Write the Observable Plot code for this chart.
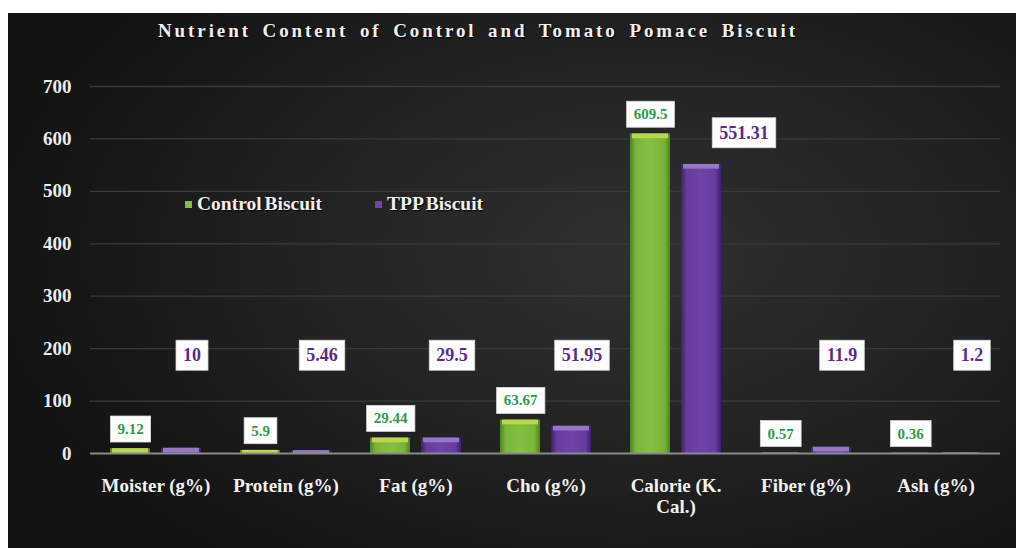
<!DOCTYPE html>
<html><head><meta charset="utf-8">
<script src="https://cdn.jsdelivr.net/npm/d3@7"></script>
<script src="https://cdn.jsdelivr.net/npm/@observablehq/plot@0.6"></script>
<style>
body{margin:0;background:#fff;width:1016px;height:548px;overflow:hidden;font-family:"Liberation Serif","Times New Roman",serif;}
#panel{position:absolute;left:8px;top:13px;width:1008px;height:535px;overflow:hidden;
 background:radial-gradient(ellipse 70% 80% at 62% 45%, #303030 0%, #232323 45%, #161616 80%, #121212 100%);}
#title{position:absolute;left:70px;top:7px;width:800px;text-align:center;color:#f0f0f0;font-weight:bold;font-size:19px;letter-spacing:2.9px;word-spacing:4px;text-shadow:1px 1px 1px #000;}
#chart{position:absolute;left:0;top:40px;}
.leg{position:absolute;display:flex;align-items:center;color:#f0f0f0;font-weight:bold;font-size:19.5px;height:22px;text-shadow:1px 1px 1px #000;word-spacing:-2px;}
.leg span.m{display:inline-block;width:7px;height:7px;margin-right:5px;}
</style></head><body>
<div id="panel">
 <div id="title"></div>
 <div id="chart"></div>
 <div id="legend"></div>
</div>
<script>
const chartTitle = "Nutrient Content of Control and Tomato Pomace Biscuit";
const categories = ["Moister (g%)", "Protein (g%)", "Fat (g%)", "Cho (g%)", "Calorie (K. Cal.)", "Fiber (g%)", "Ash (g%)"];
const controlValues = [9.12, 5.9, 29.44, 63.67, 609.5, 0.57, 0.36];
const tppValues = [10, 5.46, 29.5, 51.95, 551.31, 11.9, 1.2];
const seriesNames = ["Control Biscuit", "TPP Biscuit"];
const yTicks = [0, 100, 200, 300, 400, 500, 600, 700];

const rows = categories.map((c, i) => ({category: c, control: controlValues[i], tpp: tppValues[i]}));

document.getElementById("title").textContent = chartTitle;

const plot = Plot.plot({
  width: 1008, height: 495,
  marginTop: 33, marginBottom: 95, marginLeft: 82, marginRight: 16,
  style: {background: "transparent", color: "#f0f0f0", fontFamily: "Liberation Serif, Times New Roman, serif", fontWeight: "bold", fontSize: "19px", overflow: "visible"},
  x: {domain: categories, paddingInner: 0.3, paddingOuter: 0.15, label: null},
  y: {domain: [0, 700], label: null},
  marks: [
    Plot.ruleY(yTicks.filter(d => d > 0), {stroke: "#3b3b3b", strokeWidth: 1.3}),
    Plot.barY(rows, {x: "category", y: "control", fill: "url(#gGreen)", insetRight: 51}),
    Plot.barY(rows, {x: "category", y: "tpp", fill: "url(#gPurple)", insetLeft: 51}),
    Plot.barY(rows, {x: "category", y1: "control", y2: d => Math.max(0, d.control - 9), fill: "#b9d84a", insetRight: 53, insetLeft: 2}),
    Plot.barY(rows, {x: "category", y1: "tpp", y2: d => Math.max(0, d.tpp - 9), fill: "#9676c6", insetLeft: 53, insetRight: 2}),
    Plot.ruleY([0], {stroke: "#8a8a8a", strokeWidth: 2}),
    Plot.axisY(yTicks, {tickSize: 0, tickPadding: 19, label: null, fontSize: 19, fill: "#ececec"}),
    Plot.axisX({tickSize: 0, tickPadding: 23, label: null, fontSize: 19, fill: "#f2f2f2", lineHeight: 1.12,
      tickFormat: d => d.replace("(K. ", "(K.\n")}),
    Plot.text(rows, {x: "category", y: "control", text: d => String(d.control), dx: -25.5, dy: -19.5, fill: "#2e9a48", fontSize: 15, fontWeight: "bold"}),
    Plot.text(rows, {filter: d => d.tpp < 300, x: "category", y: 187, text: d => String(d.tpp), dx: 36, fill: "#5a2a8c", fontSize: 18, fontWeight: "bold"}),
    Plot.text(rows, {filter: d => d.tpp >= 300, x: "category", y: d => d.tpp + 60, text: d => String(d.tpp), dx: 68, fill: "#5a2a8c", fontSize: 18, fontWeight: "bold"})
  ]
});

document.getElementById("chart").appendChild(plot);

// gradients for bar fills
const ns = "http://www.w3.org/2000/svg";
const defs = document.createElementNS(ns, "defs");
defs.innerHTML = `
<linearGradient id="gGreen" x1="0" x2="1" y1="0" y2="0">
 <stop offset="0" stop-color="#4e8420"/><stop offset="0.14" stop-color="#78b53a"/>
 <stop offset="0.5" stop-color="#84c040"/><stop offset="0.86" stop-color="#78b53a"/>
 <stop offset="1" stop-color="#4e8420"/></linearGradient>
<linearGradient id="gPurple" x1="0" x2="1" y1="0" y2="0">
 <stop offset="0" stop-color="#3c2070"/><stop offset="0.14" stop-color="#663c9e"/>
 <stop offset="0.5" stop-color="#6e44a8"/><stop offset="0.86" stop-color="#663c9e"/>
 <stop offset="1" stop-color="#3c2070"/></linearGradient>`;
plot.insertBefore(defs, plot.firstChild);

// white boxes behind the data labels
plot.querySelectorAll('g[aria-label="text"]').forEach(g => {
  g.querySelectorAll("text").forEach(t => {
    const bb = t.getBBox();
    const padX = 7, padY = 5;
    const r = document.createElementNS(ns, "rect");
    r.setAttribute("x", bb.x - padX);
    r.setAttribute("y", bb.y - padY);
    r.setAttribute("width", bb.width + 2 * padX);
    r.setAttribute("height", bb.height + 2 * padY);
    r.setAttribute("fill", "#ffffff");
    r.setAttribute("stroke", "#d8d8d8");
    r.setAttribute("stroke-width", "0.8");
    const tr = t.getAttribute("transform");
    if (tr) r.setAttribute("transform", tr);
    t.parentNode.insertBefore(r, t);
  });
});

// legend
const legend = document.getElementById("legend");
const legendColors = ["#84c040", "#6e44a8"];
const legendPos = [[177, 180], [367, 180]];
seriesNames.forEach((name, i) => {
  const item = document.createElement("div");
  item.className = "leg";
  item.style.left = legendPos[i][0] + "px";
  item.style.top = legendPos[i][1] + "px";
  item.innerHTML = `<span class="m" style="background:${legendColors[i]}"></span>${name}`;
  legend.appendChild(item);
});
</script>
</body></html>
